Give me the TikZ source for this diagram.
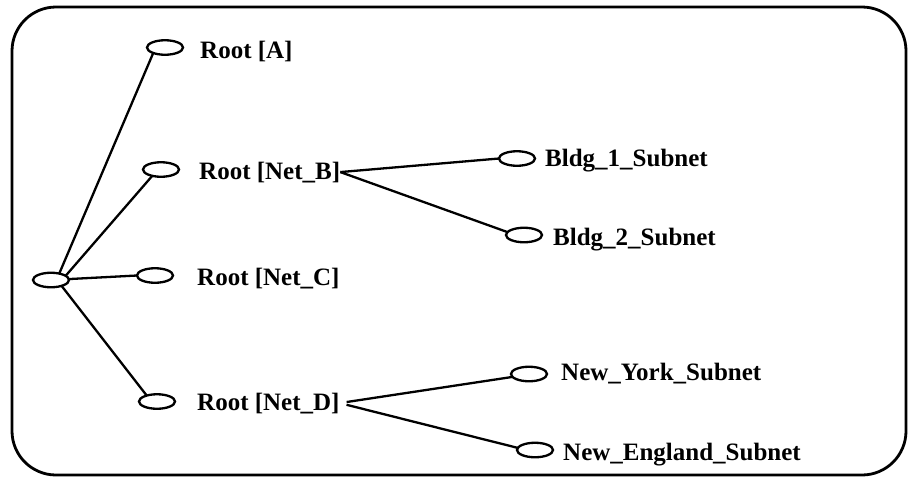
\documentclass[tikz,border=0pt]{standalone}
\usepackage{fontspec}
\setmainfont{Liberation Serif}
\usetikzlibrary{shapes.geometric}
\begin{document}
\begin{tikzpicture}[x=1pt,y=-1pt,
  hub/.style={draw, ellipse, line width=2.3pt, minimum width=36pt, minimum height=14.5pt, inner sep=0pt, outer sep=0pt},
  lbl/.style={anchor=base west, inner sep=0pt, font=\fontsize{25}{30}\selectfont\bfseries},
  link/.style={line width=2.3pt},
  frame/.style={line width=2.8pt, rounded corners=44pt}]
\useasboundingbox (0,0) rectangle (909,477);
% outer frame
\draw[frame] (12,7) rectangle (906,475);

% ellipse hubs
\node[hub] (root) at (51,280) {};
\node[hub] (a) at (165,47.5) {};
\node[hub] (b) at (161,169.5) {};
\node[hub] (c) at (155,275.5) {};
\node[hub] (d) at (157,401.5) {};
\node[hub] (b1) at (517,158.5) {};
\node[hub] (b2) at (524,235) {};
\node[hub] (d1) at (529,374) {};
\node[hub] (d2) at (535,450) {};

% labels
\node[lbl] (ta) at (200,58) {Root [A]};
\node[lbl] (tb) at (199,179) {Root [Net\_B]};
\node[lbl] (tc) at (197,285) {Root [Net\_C]};
\node[lbl] (td) at (197,410) {Root [Net\_D]};
\node[lbl] (tb1) at (545,166) {Bldg\_1\_Subnet};
\node[lbl] (tb2) at (553,245) {Bldg\_2\_Subnet};
\node[lbl] (td1) at (561,380) {New\_York\_Subnet};
\node[lbl] (td2) at (563,460) {New\_England\_Subnet};

% connectors from the root
\draw[link] (root.38) -- (a.205);
\draw[link] (root.16) -- (b.216);
\draw[link] (root.3) -- (c.180);
\draw[link] (root.331) -- (d.150);

% subnets
\draw[link] (tb.east) -- (b1.180);
\draw[link] (tb.east) -- (b2.170);
\draw[link, shorten <=7pt] (td.east) -- (d1.190);
\draw[link, shorten <=7pt] (td.east) -- (d2.173);
\end{tikzpicture}
\end{document}
